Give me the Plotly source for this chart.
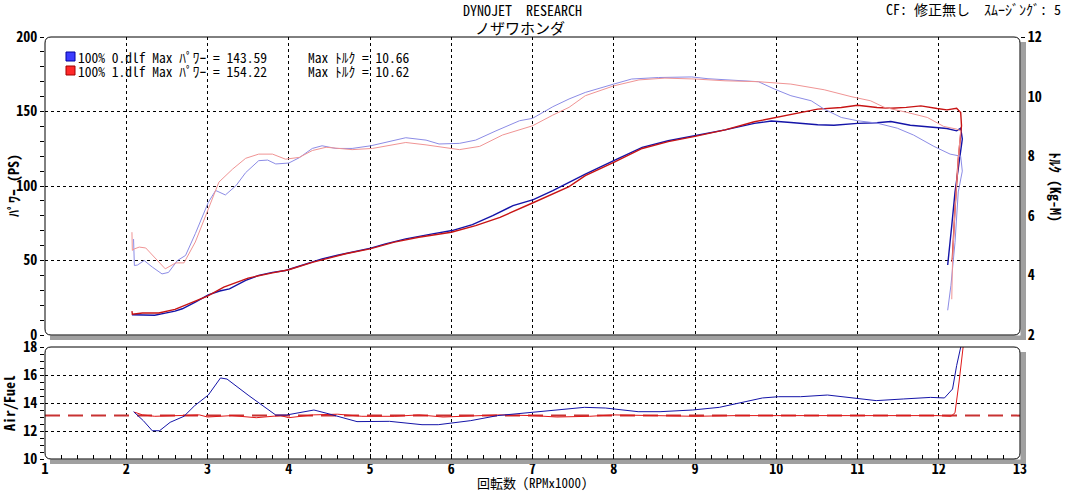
import plotly.graph_objects as go

# ---- data ----
rpm_pwr0 = [2.07, 2.2, 2.35, 2.48, 2.6, 2.69, 2.85, 3.01, 3.15, 3.27, 3.47, 3.63, 3.8, 3.96, 4.21, 4.41, 4.6, 4.78, 5.01, 5.19,
            5.44, 5.77, 6.01, 6.26, 6.51, 6.76, 7.01, 7.25, 7.45, 7.65, 8.0, 8.35, 8.67, 9.0, 9.37, 9.73, 9.94, 10.18, 10.51, 10.71,
            11.0, 11.24, 11.41, 11.65, 11.94, 12.1, 12.22, 12.27, 12.29, 12.25, 12.2, 12.16, 12.12, 12.11]
pwr0 = [13.6, 13.6, 13.3, 14.7, 16.0, 17.6, 22.0, 27.0, 29.5, 31.0, 36.6, 40.0, 42.0, 43.3, 47.8, 51.1, 53.5, 55.6, 58.3, 61.2,
        64.5, 67.9, 70.1, 74.1, 80.1, 86.8, 90.8, 96.9, 102.5, 108.0, 117.0, 125.9, 130.4, 133.7, 137.7, 142.0, 143.6, 142.6, 141.1, 140.8,
        142.0, 142.4, 143.3, 140.8, 139.3, 138.6, 137.0, 138.8, 131.5, 115.0, 95.8, 73.4, 51.1, 47.0]

rpm_pwr1 = [2.07, 2.075, 2.2, 2.4, 2.6, 2.8, 3.0, 3.2, 3.5, 3.8, 4.0, 4.3, 4.7, 5.0, 5.3, 5.6, 6.0, 6.3, 6.6, 7.0,
            7.25, 7.45, 7.65, 8.0, 8.35, 8.67, 9.0, 9.37, 9.73, 10.0, 10.27, 10.51, 10.8, 11.0, 11.24, 11.41, 11.6, 11.78, 11.98, 12.1,
            12.22, 12.27, 12.28, 12.24, 12.2, 12.17, 12.165]
pwr1 = [16.0, 14.0, 14.8, 14.8, 17.2, 21.5, 26.1, 32.1, 38.2, 41.7, 43.8, 48.9, 54.5, 57.8, 62.3, 65.6, 69.0, 73.4, 79.0, 88.6,
        94.6, 99.6, 107.0, 115.8, 125.2, 129.8, 133.3, 137.7, 143.1, 146.0, 149.3, 151.6, 152.7, 154.2, 152.7, 152.2, 152.8, 153.8, 152.0, 151.1,
        152.2, 149.3, 140.4, 118.0, 84.6, 51.1, 49.0]

rpm_trq0 = [2.09, 2.10, 2.14, 2.22, 2.32, 2.44, 2.52, 2.63, 2.73, 2.85, 3.01, 3.10, 3.22, 3.35, 3.47, 3.63, 3.74, 3.84, 4.0, 4.13,
            4.29, 4.41, 4.58, 4.78, 5.01, 5.19, 5.44, 5.69, 5.85, 6.1, 6.3, 6.55, 6.84, 7.0, 7.25, 7.45, 7.65, 8.0, 8.22, 8.55,
            8.96, 9.16, 9.45, 9.78, 9.98, 10.18, 10.43, 10.59, 10.8, 11.0, 11.24, 11.49, 11.69, 11.94, 12.14, 12.27, 12.29, 12.24, 12.2, 12.15,
            12.11]
trq0 = [5.22, 4.33, 4.35, 4.5, 4.28, 4.05, 4.1, 4.5, 4.67, 5.4, 6.45, 6.85, 6.7, 7.01, 7.45, 7.85, 7.87, 7.74, 7.77, 7.95,
        8.26, 8.35, 8.26, 8.26, 8.35, 8.46, 8.62, 8.54, 8.41, 8.43, 8.54, 8.85, 9.19, 9.27, 9.66, 9.92, 10.14, 10.42, 10.59, 10.64,
        10.66, 10.6, 10.56, 10.5, 10.25, 10.03, 9.86, 9.58, 9.3, 9.19, 9.11, 8.94, 8.71, 8.33, 8.07, 8.0, 7.5, 6.8, 5.1, 3.67,
        2.83]

rpm_trq1 = [2.07, 2.075, 2.1, 2.16, 2.24, 2.36, 2.48, 2.61, 2.71, 2.85, 3.01, 3.14, 3.31, 3.47, 3.63, 3.8, 3.96, 4.13, 4.29, 4.46,
            4.78, 5.03, 5.44, 5.69, 6.1, 6.35, 6.63, 7.0, 7.25, 7.45, 7.65, 8.0, 8.31, 8.63, 9.0, 9.37, 9.78, 10.18, 10.59, 10.92,
            11.16, 11.33, 11.61, 11.86, 12.06, 12.22, 12.27, 12.24, 12.2, 12.17, 12.16]
trq1 = [5.45, 4.84, 4.89, 4.95, 4.92, 4.56, 4.22, 4.42, 4.42, 5.12, 6.23, 7.13, 7.57, 7.93, 8.07, 8.07, 7.9, 7.96, 8.19, 8.3,
        8.22, 8.26, 8.46, 8.38, 8.22, 8.33, 8.71, 9.02, 9.38, 9.64, 10.03, 10.36, 10.56, 10.62, 10.59, 10.53, 10.5, 10.42, 10.23, 10.0,
        9.86, 9.64, 9.47, 9.3, 9.0, 8.91, 8.85, 7.9, 6.23, 4.56, 3.2]

rpm_afr0 = [2.09, 2.21, 2.32, 2.41, 2.54, 2.71, 2.84, 3.01, 3.16, 3.24, 3.51, 3.71, 3.84, 3.97, 4.07, 4.31, 4.47, 4.84, 5.24, 5.64,
            5.84, 6.24, 6.57, 7.1, 7.64, 7.9, 8.3, 8.57, 8.97, 9.3, 9.57, 9.83, 10.03, 10.3, 10.63, 10.97, 11.23, 11.57, 11.9, 12.07,
            12.17, 12.22, 12.27, 12.29]
afr0 = [13.38, 12.74, 12.02, 12.02, 12.62, 13.05, 13.8, 14.57, 15.79, 15.71, 14.52, 13.69, 13.14, 13.14, 13.26, 13.5, 13.26, 12.67, 12.69, 12.45,
        12.45, 12.74, 13.1, 13.4, 13.69, 13.64, 13.38, 13.38, 13.5, 13.69, 14.05, 14.36, 14.45, 14.45, 14.57, 14.36, 14.17, 14.29, 14.4, 14.36,
        15.0, 16.67, 18.1, 18.5]

rpm_afr1 = [2.1, 2.2, 2.35, 2.6, 2.9, 3.0, 3.3, 3.6, 3.9, 4.0, 4.3, 4.6, 4.9, 5.3, 5.6, 5.9, 6.3, 6.6, 7.0, 7.3,
            7.7, 8.0, 8.5, 9.0, 9.5, 10.0, 10.5, 11.0, 11.5, 12.0, 12.15, 12.2, 12.25, 12.31]
afr1 = [13.35, 13.15, 13.05, 13.1, 13.15, 13.0, 13.1, 12.95, 13.1, 12.95, 13.15, 13.2, 13.05, 13.05, 13.15, 13.0, 13.1, 13.15, 13.1, 13.0,
        13.05, 13.15, 13.1, 13.05, 13.1, 13.1, 13.15, 13.1, 13.12, 13.1, 13.05, 13.3, 15.5, 18.5]

afr_ref_rpm = [1, 13]
afr_ref = [13.1, 13.1]

legend_runs = ["100% 0.dlf", "100% 1.dlf"]
max_power = [143.59, 154.22]
max_torque = [10.66, 10.62]

# ---- styling ----
MONO = "Noto Sans Mono CJK JP, DejaVu Sans Mono, Noto Sans CJK JP, monospace"
DBLUE, LBLUE = "#1414a8", "#8c8ce6"
DRED, LRED = "#c81414", "#f09494"
GRID = dict(showgrid=True, gridcolor="black", gridwidth=1, griddash="3px,3px", zeroline=False)
TICKF = dict(family=MONO, size=14, color="black", weight="bold")

W, H = 1067, 491
L, R, T, B = 45, 1020, 37, 459


def X(px):
    return (px - L) / (R - L)


def Y(py):
    return (B - py) / (B - T)


fig = go.Figure()
fig.add_trace(go.Scatter(x=rpm_trq0, y=trq0, yaxis="y2", mode="lines", line=dict(color=LBLUE, width=1)))
fig.add_trace(go.Scatter(x=rpm_trq1, y=trq1, yaxis="y2", mode="lines", line=dict(color=LRED, width=1)))
fig.add_trace(go.Scatter(x=rpm_pwr0, y=pwr0, mode="lines", line=dict(color=DBLUE, width=1.4)))
fig.add_trace(go.Scatter(x=rpm_pwr1, y=pwr1, mode="lines", line=dict(color=DRED, width=1.4)))

fig.add_trace(go.Scatter(x=afr_ref_rpm, y=afr_ref, xaxis="x2", yaxis="y3", mode="lines",
                         line=dict(color="#c83232", width=2, dash="15px,8px")))
fig.add_trace(go.Scatter(x=rpm_afr1, y=afr1, xaxis="x2", yaxis="y3", mode="lines", line=dict(color="#e01818", width=1)))
fig.add_trace(go.Scatter(x=rpm_afr0, y=afr0, xaxis="x2", yaxis="y3", mode="lines", line=dict(color=DBLUE, width=1)))

top_dom = [Y(335), 1]
bot_dom = [0, Y(347)]

fig.update_layout(
    width=W, height=H,
    margin=dict(l=L, r=W - R, t=T, b=H - B, pad=0),
    paper_bgcolor="white", plot_bgcolor="white", showlegend=False,
    font=dict(family=MONO, size=14, color="black"),
    xaxis=dict(domain=[0, 1], range=[1, 13], anchor="y", dtick=1, tick0=1, showticklabels=False, ticks="", **GRID),
    xaxis2=dict(domain=[0, 1], range=[1, 13], anchor="y3", dtick=1, tick0=1, ticks="inside", ticklen=5,
                tickcolor="black", tickfont=TICKF, minor=dict(dtick=0.2, tick0=1, ticks="inside", ticklen=4, tickcolor="black", showgrid=False),
                **GRID),
    yaxis=dict(domain=top_dom, range=[0, 200], anchor="x", dtick=50, ticks="outside", ticklen=4, tickcolor="black",
               tickfont=TICKF, minor=dict(dtick=10, ticks="outside", ticklen=4, tickcolor="black", showgrid=False), **GRID),
    yaxis4=dict(overlaying="y", range=[0, 200], anchor="x", dtick=10, ticks="inside", ticklen=4, tickcolor="black",
                showticklabels=False, showgrid=False, zeroline=False),
    yaxis2=dict(overlaying="y", side="right", range=[2, 12], anchor="x", dtick=2, ticks="outside", ticklen=4, tickcolor="black",
                tickfont=TICKF, minor=dict(dtick=0.5, ticks="outside", ticklen=4, tickcolor="black", showgrid=False),
                showgrid=False, zeroline=False),
    yaxis5=dict(overlaying="y", side="right", range=[2, 12], anchor="x", dtick=0.5, ticks="inside", ticklen=4, tickcolor="black",
                showticklabels=False, showgrid=False, zeroline=False),
    yaxis3=dict(domain=bot_dom, range=[10, 18], anchor="x2", dtick=2, ticks="outside", ticklen=4, tickcolor="black",
                tickfont=TICKF, minor=dict(dtick=0.5, ticks="outside", ticklen=4, tickcolor="black", showgrid=False), **GRID),
    yaxis6=dict(overlaying="y3", range=[10, 18], anchor="x2", dtick=0.5, ticks="inside", ticklen=4, tickcolor="black",
                showticklabels=False, showgrid=False, zeroline=False),
)


def rounded(x0, y0, x1, y1, r=6):
    return (f"M {X(x0 + r)},{Y(y0)} L {X(x1 - r)},{Y(y0)} Q {X(x1)},{Y(y0)} {X(x1)},{Y(y0 + r)} "
            f"L {X(x1)},{Y(y1 - r)} Q {X(x1)},{Y(y1)} {X(x1 - r)},{Y(y1)} "
            f"L {X(x0 + r)},{Y(y1)} Q {X(x0)},{Y(y1)} {X(x0)},{Y(y1 - r)} "
            f"L {X(x0)},{Y(y0 + r)} Q {X(x0)},{Y(y0)} {X(x0 + r)},{Y(y0)} Z")


shapes = []
for (y0, y1) in [(37, 335), (347, 459)]:
    # grey drop shadow on the right and bottom
    shapes.append(dict(type="rect", xref="paper", yref="paper", x0=X(1020.5), x1=X(1026), y0=Y(y0 + 5), y1=Y(y1 + 5),
                       fillcolor="#a0a0a0", line=dict(width=0)))
    shapes.append(dict(type="rect", xref="paper", yref="paper", x0=X(50), x1=X(1026), y0=Y(y1 + 0.5), y1=Y(y1 + 5),
                       fillcolor="#a0a0a0", line=dict(width=0)))
    shapes.append(dict(type="path", xref="paper", yref="paper", path=rounded(45, y0, 1020, y1),
                       line=dict(color="black", width=1)))
# legend swatches
for i, (fc, lc) in enumerate([("#3c3cff", "#0000a0"), ("#ff2828", "#a00000")]):
    shapes.append(dict(type="rect", xref="paper", yref="paper", x0=X(66), x1=X(75), y0=Y(61 + 14 * i), y1=Y(52 + 14 * i),
                       fillcolor=fc, line=dict(color=lc, width=1)))
fig.update_layout(shapes=shapes)


def txt(x, y, s, xa="left", size=14, angle=0, bold=False):
    fig.add_annotation(x=X(x), y=Y(y), xref="paper", yref="paper", text=s, showarrow=False, xanchor=xa, yanchor="middle",
                       textangle=angle, borderpad=0,
                       font=dict(family=MONO, size=size, color="black", weight="bold" if bold else "normal"))


for i in range(2):
    txt(77, 57 + 14 * i, f"{legend_runs[i]} Max ﾊﾟﾜｰ = {max_power[i]:.2f}", size=13.5)
    txt(307, 57 + 14 * i, f"Max ﾄﾙｸ = {max_torque[i]:.2f}", size=13.5)

txt(522, 10, "DYNOJET\u00a0\u00a0RESEARCH", xa="center", size=14)
txt(520, 27, "ノザワホンダ", xa="center", size=15)
txt(1062, 9, "CF: 修正無し\u00a0\u00a0ｽﾑｰｼﾞﾝｸﾞ: 5", xa="right", size=14)
txt(13, 186, "ﾊﾟﾜｰ (PS)", xa="center", angle=-90, bold=True)
txt(1056, 187, "ﾄﾙｸ (Kg-M)", xa="center", angle=90, bold=True)
txt(9, 403, "Air/Fuel", xa="center", angle=-90, bold=True)
txt(532, 482, "回転数 (RPMx1000)", xa="center", size=13)

# the page body has a default 8px margin; drop it so the figure sits at the window origin
fig.write_html("out.html", config={"displayModeBar": False}, post_script="document.body.style.margin='0';")
